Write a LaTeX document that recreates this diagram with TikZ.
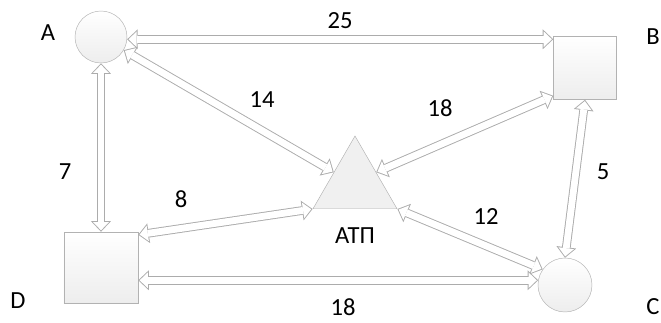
\documentclass[tikz,border=0pt]{standalone}
\usepackage{fontspec}
\setmainfont{Carlito}
\usetikzlibrary{arrows.meta,shapes.geometric,calc}
\tikzset{
	site/.style={draw=gray!60, top color=white, bottom color=gray!14, inner sep=0pt},
	link/.style={draw=white, line width=5.8pt, shorten <=1.2pt, shorten >=1.2pt,
		{Triangle[length=7pt, width=13.4pt, line width=0pt]}-{Triangle[length=7pt, width=13.4pt, line width=0pt]},
		preaction={draw=gray!65, line width=7.4pt, shorten <=0pt, shorten >=0pt,
			{Triangle[length=9pt, width=17pt, line width=0pt]}-{Triangle[length=9pt, width=17pt, line width=0pt]}}},
	weight/.style={font=\fontsize{21}{23}\selectfont, inner sep=1pt}
}

\begin{document}
\begin{tikzpicture}[x=0.03cm, y=0.03cm]
			%%%%% START %%%%%
			\useasboundingbox (0,0) rectangle (661,322);
			
			\node[site, circle, minimum size=1.56cm] (A) at (101,285) {};
			\node[site, minimum size=1.89cm] (B) at (585,254) {};
			\node[site, minimum width=2.22cm, minimum height=2.13cm] (D) at (101,54.5) {};
			\node[site, circle, minimum size=1.62cm] (C) at (565,37) {};
			\node[draw=gray!60, fill=gray!12, regular polygon, regular polygon sides=3, minimum size=2.91cm, inner sep=0pt] (T) at (355,137.5) {};
			
			\node[weight] (labA) at (48,289) {A};
			\node[weight] (labB) at (653,285) {B};
			\node[weight] (labC) at (653,15) {C};
			\node[weight] (labD) at (18,21) {D};
			\node[weight] (labT) at (355,86) {АТП};
			
			\draw[link] (A.-5) -- (A.-5 -| B.west);
			\draw[link] (A.south) -- (D.north);
			\draw[link] (A.-30) -- (T.side 1);
			\draw[link] ([yshift=0.12cm]B.south west) -- (T.side 3);
			\draw[link] (B.south) -- (C.north);
			\draw[link] (T.corner 2) -- ([yshift=-0.09cm]D.north east);
			\draw[link] (T.corner 3) -- (C.145);
			\draw[link] (C.170 -| D.east) -- (C.170);
			
			\node[weight] (w25) at (340,301) {25};
			\node[weight] (w14) at (262,222) {14};
			\node[weight] (w18a) at (440,214) {18};
			\node[weight] (w7) at (65,150) {7};
			\node[weight] (w5) at (603,150) {5};
			\node[weight] (w8) at (181,123) {8};
			\node[weight] (w12) at (486,105) {12};
			\node[weight] (w18b) at (343,15) {18};
			
			%%%%% END %%%%%
\end{tikzpicture}
\end{document}
